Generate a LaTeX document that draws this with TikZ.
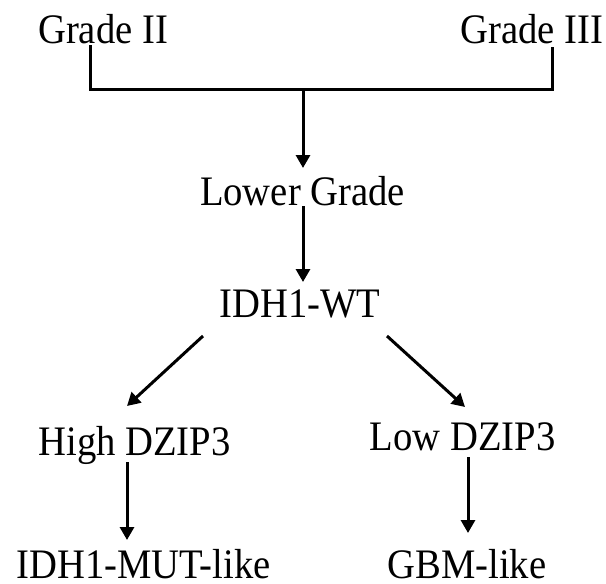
\documentclass[tikz,border=0pt]{standalone}
\usepackage{fontspec}
\setmainfont{Liberation Serif}[FakeStretch=0.92]
\usetikzlibrary{arrows.meta,calc}
\begin{document}
\begin{tikzpicture}[x=1pt,y=-1pt,
  lbl/.style={anchor=base,inner sep=0pt,font=\fontsize{42}{50}\selectfont},
  link/.style={line width=3pt,black},
  arr/.style={link,-{Triangle[length=13pt,width=14pt]}}]
  \useasboundingbox[fill=white] (0,0) rectangle (606,584);

  % labels, placed by their baselines
  \node[lbl] (g2)    at (103,43)    {Grade II};
  \node[lbl] (g3)    at (532,43)    {Grade III};
  \node[lbl] (lower) at (302.5,205) {Lower Grade};
  \node[lbl] (idh)   at (300,317)   {IDH1-WT};
  \node[lbl] (high)  at (134.5,455) {High DZIP3};
  \node[lbl] (low)   at (462.5,450) {Low DZIP3};
  \node[lbl] (mut)   at (143.5,578) {IDH1-MUT-like};
  \node[lbl] (gbm)   at (467,578)   {GBM-like};

  % bracket joining the two grades
  \coordinate (join) at (303,89);
  \draw[link] ($(g2.base)+(-13,2)$) |- ($(g3.base)+(20,46)$) -- ($(g3.base)+(20,4)$);
  \draw[arr] (join) -- ($(lower.base)+(0.5,-37)$);

  % main chain
  \draw[arr] ($(lower.base)+(0.5,1)$) -- ($(idh.base)+(3,-35)$);
  \draw[arr] ($(idh.base)+(-97,19)$) -- ($(high.base)+(-7.5,-49)$);
  \draw[arr] ($(idh.base)+(87,19)$)  -- ($(low.base)+(2.5,-43)$);
  \draw[arr] ($(high.base)+(-7.5,7)$) -- ($(mut.base)+(-16.5,-38)$);
  \draw[arr] ($(low.base)+(5.5,7)$)  -- ($(gbm.base)+(1,-45)$);
\end{tikzpicture}
\end{document}
